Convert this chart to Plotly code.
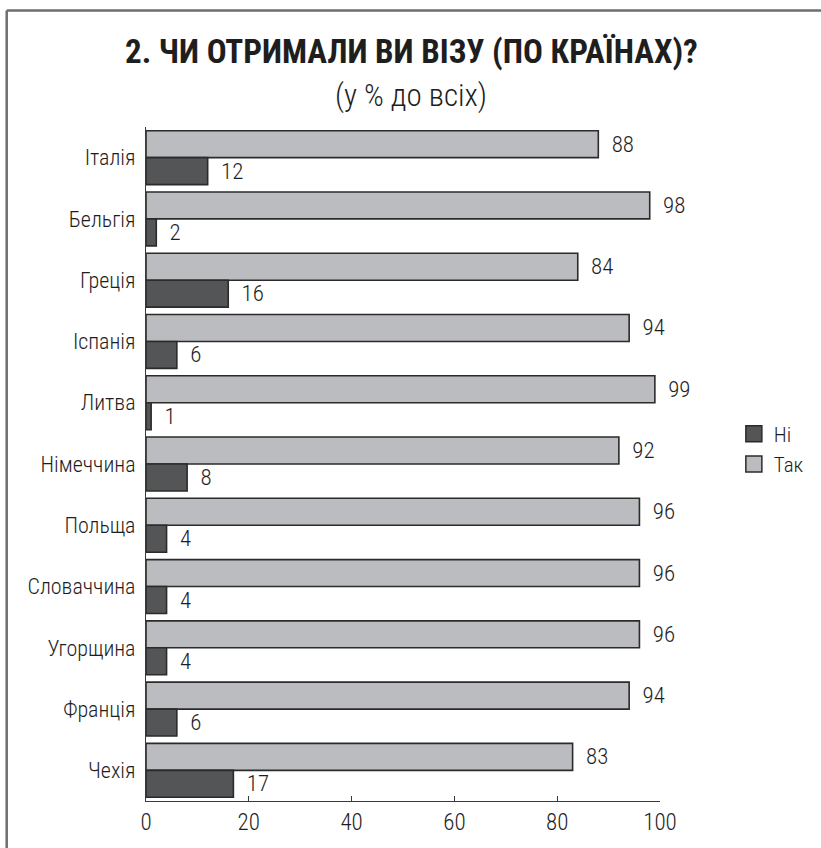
import plotly.graph_objects as go

# Survey data: "Did you get a visa?" by country (% of all respondents)
countries = ["Італія", "Бельгія", "Греція", "Іспанія", "Литва", "Німеччина",
             "Польща", "Словаччина", "Угорщина", "Франція", "Чехія"]
yes_values = [88, 98, 84, 94, 99, 92, 96, 96, 96, 94, 83]
no_values = [12, 2, 16, 6, 1, 8, 4, 4, 4, 6, 17]
x_ticks = [0, 20, 40, 60, 80, 100]

FONT = "Roboto Condensed, Roboto, sans-serif"
TEXT = "#1e1e1e"
LIGHT = "#bbbcbf"
DARK = "#535557"
EDGE = "#2b2b2b"
AXIS = "#3a3a3a"
W = 350  # weight for regular text
LABEL_TEMPLATE = "\u00a0\u00a0%{text}"

fig = go.Figure()
fig.add_trace(go.Bar(
    name="Так", y=countries, x=yes_values, orientation="h", showlegend=False,
    marker=dict(color=LIGHT, line=dict(color=EDGE, width=1.6)),
    text=yes_values, texttemplate=LABEL_TEMPLATE, textposition="outside",
    textfont=dict(family=FONT, size=23, color=TEXT, weight=W), cliponaxis=False,
))
fig.add_trace(go.Bar(
    name="Ні", y=countries, x=no_values, orientation="h", showlegend=False,
    marker=dict(color=DARK, line=dict(color=EDGE, width=1.6)),
    text=no_values, texttemplate=LABEL_TEMPLATE, textposition="outside",
    textfont=dict(family=FONT, size=23, color=TEXT, weight=W), cliponaxis=False,
))

# legend entries with larger square swatches
for name, color in [("Ні", DARK), ("Так", LIGHT)]:
    fig.add_trace(go.Scatter(
        name=name, x=[None], y=[None], mode="markers",
        marker=dict(symbol="square", size=16, color=color,
                    line=dict(color=EDGE, width=1.5)),
    ))

fig.update_layout(
    width=821, height=848,
    margin=dict(l=146, r=160, t=127, b=39),
    paper_bgcolor="white", plot_bgcolor="white",
    barmode="group", bargap=0.12, bargroupgap=0,
    font=dict(family=FONT, color=TEXT, weight=W),
    showlegend=True,
    legend=dict(
        x=1.1437, y=0.522, xanchor="left", yanchor="middle",
        traceorder="normal", font=dict(family=FONT, size=21, color=TEXT, weight=W),
        bgcolor="rgba(0,0,0,0)", itemwidth=30, tracegroupgap=0,
    ),
    xaxis=dict(
        range=[0, 100], tickvals=x_ticks, ticktext=[str(t) for t in x_ticks],
        showgrid=False, zeroline=False,
        showline=True, linecolor=AXIS, linewidth=1.2,
        ticks="inside", ticklen=5, tickcolor=AXIS,
        tickfont=dict(family=FONT, size=23, color=TEXT, weight=W),
    ),
    yaxis=dict(
        categoryorder="array", categoryarray=countries, autorange="reversed",
        showgrid=False, zeroline=False,
        showline=True, linecolor=AXIS, linewidth=1.2,
        ticks="", ticklabelstandoff=5,
        tickfont=dict(family=FONT, size=22, color=TEXT, weight=W),
    ),
    annotations=[
        dict(text="2. ЧИ ОТРИМАЛИ ВИ ВІЗУ (ПО КРАЇНАХ)?",
             xref="paper", yref="paper", x=0.516, y=1.112,
             xanchor="center", yanchor="middle", showarrow=False,
             font=dict(family=FONT, size=33, color=TEXT, weight=700)),
        dict(text="(у % до всіх)",
             xref="paper", yref="paper", x=0.516, y=1.047,
             xanchor="center", yanchor="middle", showarrow=False,
             font=dict(family=FONT, size=31, color=TEXT, weight=W)),
    ],
    shapes=[
        # frame lines along the top and left of the graphic
        dict(type="line", xref="paper", yref="paper",
             x0=-0.271, x1=1.35, y0=1.173, y1=1.173,
             line=dict(color="#6e6e6e", width=2.5)),
        dict(type="line", xref="paper", yref="paper",
             x0=-0.271, x1=-0.271, y0=1.173, y1=-0.1,
             line=dict(color="#6e6e6e", width=2.5)),
    ],
)

fig.write_html("out.html")
